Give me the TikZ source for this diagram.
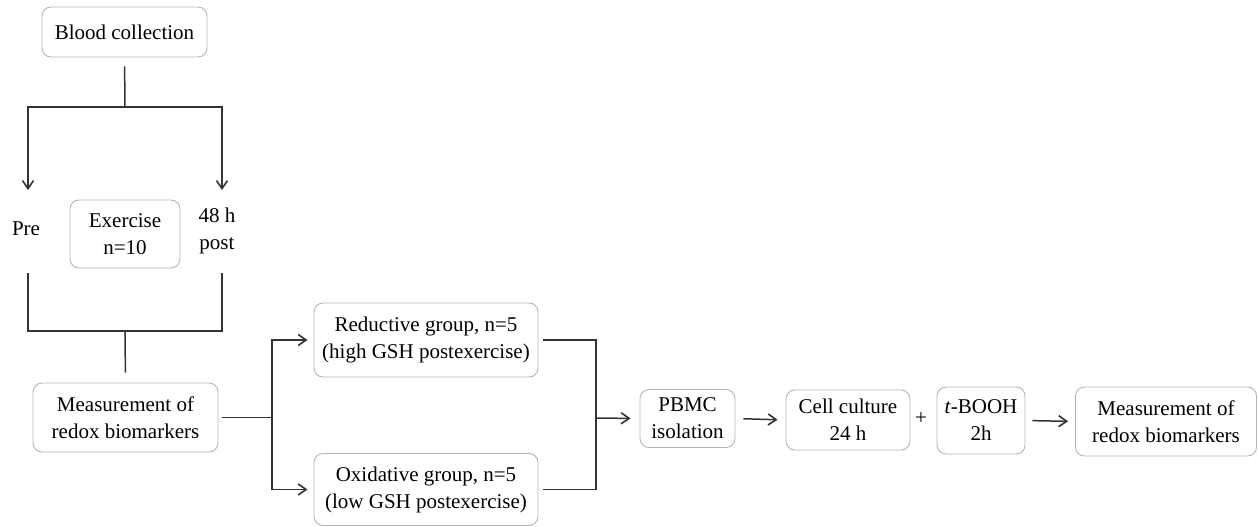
\documentclass[tikz,border=0pt]{standalone}
\usepackage{fontspec}
\setmainfont{Liberation Serif}
\usetikzlibrary{arrows.meta}
\definecolor{boxgray}{HTML}{B4B4B4}
\definecolor{linegray}{HTML}{333333}
\begin{document}
\begin{tikzpicture}[x=1pt,y=-1pt,
  txt/.style={font=\fontsize{21}{27}\selectfont, align=center, inner sep=0pt, text=black},
  box/.style={txt, draw=boxgray, line width=0.9pt, rounded corners=9pt},
  conn/.style={draw=linegray, line width=1.5pt},
  arr/.style={conn, -{Straight Barb[length=8pt,width=11pt,line width=1.6pt]}}
]
\useasboundingbox (0,0) rectangle (1258,527);

% nodes
\node[box, minimum width=165pt, minimum height=50pt] (blood) at (124.5,32) {Blood collection};
\node[txt] (pre) at (26,229) {Pre};
\node[box, minimum width=110pt, minimum height=68pt] (exer) at (125,234) {Exercise\\n=10};
\node[txt] (post) at (217,231) {48 h\\post};
\node[box, minimum width=185pt, minimum height=69pt] (meas1) at (125.5,417.5) {Measurement of\\redox biomarkers};
\node[box, minimum width=224pt, minimum height=74pt] (red) at (426,340) {Reductive group, n=5\\(high GSH postexercise)};
\node[box, minimum width=224pt, minimum height=72pt] (oxi) at (426,489.5) {Oxidative group, n=5\\(low GSH postexercise)};
\node[box, minimum width=95pt, minimum height=58pt] (pbmc) at (687.5,418.5) {PBMC\\isolation};
\node[box, minimum width=124pt, minimum height=60pt] (cell) at (848,420) {Cell culture\\24 h};
\node[txt] (plus) at (921,419) {+};
\node[box, minimum width=88pt, minimum height=67pt] (tb) at (981,420.5) {\textit{t}-BOOH\\2h};
\node[box, minimum width=181pt, minimum height=69pt] (meas2) at (1166,421.5) {Measurement of\\redox biomarkers};

% junction coordinates
\coordinate (j1) at (125,107);
\coordinate (a1) at (28,190);
\coordinate (a2) at (222,190);
\coordinate (b1) at (28,273);
\coordinate (b2) at (222,273);
\coordinate (j2) at (125,331);
\coordinate (j3) at (272,415);
\coordinate (j4) at (596,418);

% top tree
\draw[conn, shorten <=9pt] (blood.south) -- (j1);
\draw[arr] (j1) -| (a1);
\draw[arr] (j1) -| (a2);
% bottom tree
\draw[conn] (b1) |- (j2) -| (b2);
\draw[conn, shorten >=10pt] (j2) -- (meas1.north);
% split to groups
\draw[conn, shorten <=4pt] (meas1.east) -- (meas1.east -| j3);
\draw[arr, shorten >=6pt] (meas1.east -| j3) |- (red.west);
\draw[arr, shorten >=6pt] (meas1.east -| j3) |- (oxi.west);
% merge
\draw[conn, shorten <=5pt] (red.east) -| (j4);
\draw[conn, shorten <=5pt] (oxi.east) -| (j4);
\draw[arr, shorten >=9pt] (j4) -- (pbmc.west);
\draw[arr, shorten <=8pt, shorten >=8pt] (pbmc.east) -- (cell.west);
\draw[arr, shorten <=7pt, shorten >=7pt] (tb.east) -- (meas2.west);
\end{tikzpicture}
\end{document}
